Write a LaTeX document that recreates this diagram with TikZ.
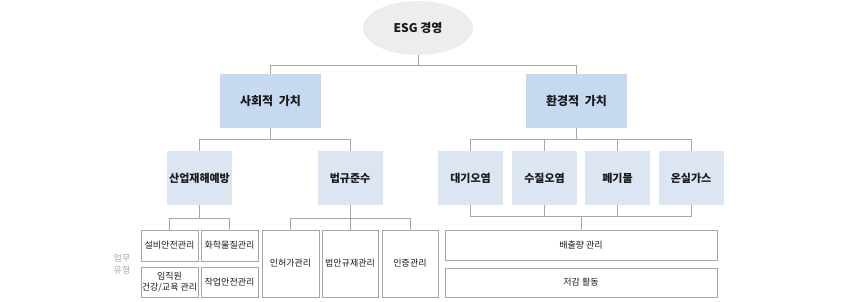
\documentclass[tikz,border=0pt]{standalone}
\usepackage{fontspec}
\setmainfont{Noto Sans CJK KR}
\usetikzlibrary{shapes.geometric,shadows}
\definecolor{lin}{HTML}{A6A6A6}
\definecolor{topfill}{HTML}{EDEDED}
\definecolor{l1fill}{HTML}{C6D9F1}
\definecolor{l2fill}{HTML}{DCE6F2}
\definecolor{txt}{HTML}{1A1A1A}
\begin{document}
\begin{tikzpicture}[x=1pt,y=-1pt,
  conn/.style={draw=lin,line width=1pt},
  topnode/.style={ellipse,fill=topfill,minimum width=110pt,minimum height=54pt,font=\fontsize{12}{14}\selectfont\bfseries,text=txt},
  lvone/.style={rectangle,fill=l1fill,minimum width=101pt,minimum height=54pt,inner sep=0pt,font=\fontsize{12}{14}\selectfont\bfseries,text=txt},
  lvtwo/.style={rectangle,fill=l2fill,minimum width=65pt,minimum height=54pt,inner sep=0pt,font=\fontsize{11}{13}\selectfont\bfseries,text=txt},
  task/.style={rectangle,draw=lin,line width=0.8pt,fill=white,inner sep=0pt,align=center,font=\fontsize{9}{11}\selectfont,text=txt,
    drop shadow={shadow xshift=0.8pt,shadow yshift=-0.8pt,opacity=0.25}},
  lbl/.style={font=\fontsize{9}{12}\selectfont,text=lin,align=center}]
\useasboundingbox (0,0) rectangle (844,302);
% nodes
\node[topnode] (esg) at (418,28) {ESG 경영};
\node[lvone] (soc) at (270.5,101) {사회적\ \ 가치};
\node[lvone] (env) at (576.5,101) {환경적\ \ 가치};
\node[lvtwo] (sanup) at (199.5,178) {산업재해예방};
\node[lvtwo] (beop) at (350,178) {법규준수};
\node[lvtwo] (daegi) at (470.5,178) {대기오염};
\node[lvtwo] (sujil) at (544.5,178) {수질오염};
\node[lvtwo] (pye) at (617.5,178) {폐기물};
\node[lvtwo] (onsil) at (691,178) {온실가스};
\node[task,minimum width=57pt,minimum height=31pt] (b1) at (169.5,245.5) {설비안전관리};
\node[task,minimum width=57pt,minimum height=31pt] (b2) at (229.5,245.5) {화학물질관리};
\node[task,minimum width=57pt,minimum height=30pt] (b3) at (169.5,282) {임직원\\건강/교육 관리};
\node[task,minimum width=57pt,minimum height=30pt] (b4) at (229.5,282) {작업안전관리};
\node[task,minimum width=57pt,minimum height=67pt] (c1) at (290.5,263.5) {인허가관리};
\node[task,minimum width=56pt,minimum height=67pt] (c2) at (350,263.5) {법안규제관리};
\node[task,minimum width=56pt,minimum height=67pt] (c3) at (410,263.5) {인증관리};
\node[task,minimum width=272pt,minimum height=30pt] (e1) at (581,245) {배출량 관리};
\node[task,minimum width=272pt,minimum height=29pt] (e2) at (581,282.5) {저감 활동};
\node[lbl] (utype) at (122,264) {업무\\유형};
% connectors level 0-1
\coordinate (j0) at (418,66);
\draw[conn] (esg.south) -- (j0);
\draw[conn] (j0) -| (soc.north);
\draw[conn] (j0) -| (env.north);
% level 1-2
\coordinate (j1) at (270.5,140);
\draw[conn] (soc.south) -- (j1);
\draw[conn] (j1) -| (sanup.north);
\draw[conn] (j1) -| (beop.north);
\coordinate (j2) at (576.5,140);
\draw[conn] (env.south) -- (j2);
\draw[conn] (j2) -| (daegi.north);
\draw[conn] (j2) -| (sujil.north);
\draw[conn] (j2) -| (pye.north);
\draw[conn] (j2) -| (onsil.north);
% level 2-3
\coordinate (j3) at (199.5,219);
\draw[conn] (sanup.south) -- (j3);
\draw[conn] (j3) -| (b1.north);
\draw[conn] (j3) -| (b2.north);
\coordinate (j4) at (350,219);
\draw[conn] (beop.south) -- (j4);
\draw[conn] (j4) -| (c1.north);
\draw[conn] (j4) -| (c3.north);
\draw[conn] (j4) -- (c2.north);
\coordinate (j5) at (581,217);
\draw[conn] (daegi.south) |- (j5);
\draw[conn] (onsil.south) |- (j5);
\draw[conn] (sujil.south) -- (sujil.south |- j5);
\draw[conn] (pye.south) -- (pye.south |- j5);
\draw[conn] (j5) -- (e1.north);
\end{tikzpicture}
\end{document}
